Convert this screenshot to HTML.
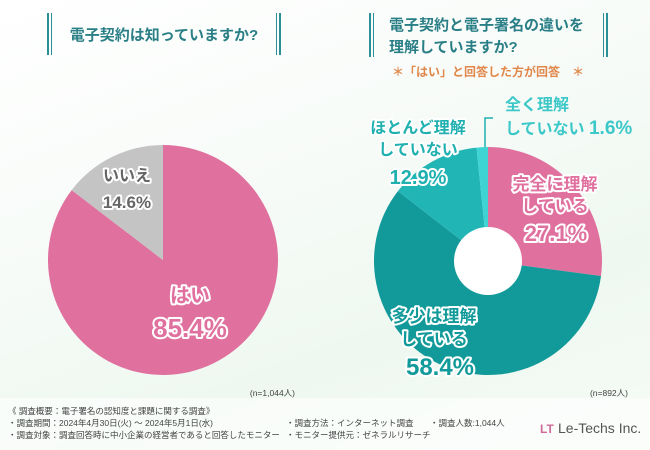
<!DOCTYPE html>
<html><head><meta charset="utf-8"><style>
body{margin:0;width:650px;height:450px;overflow:hidden;font-family:"Liberation Sans","Noto Sans CJK JP",sans-serif;background:linear-gradient(160deg,#ffffff 0%,#f7fbf8 40%,#eef8f0 70%,#f6fbf6 100%);}
svg{position:absolute;left:0;top:0}
text{font-family:"Liberation Sans","Noto Sans CJK JP",sans-serif;font-weight:bold}
.o{paint-order:stroke;stroke:#fff;stroke-width:4px;stroke-linejoin:round}
.f{font-weight:normal;font-size:8.5px;fill:#444}
</style></head><body>
<svg width="650" height="450">
<rect x="0" y="398" width="650" height="52" fill="#fff" opacity="0.6"/>
<g>
<rect x="47" y="13" width="2" height="42" fill="#2a8f96"/><rect x="51" y="13" width="1" height="42" fill="#2a8f96"/>
<rect x="276" y="13" width="1" height="42" fill="#2a8f96"/><rect x="279" y="13" width="2" height="42" fill="#2a8f96"/>
<text x="164" y="40" text-anchor="middle" font-size="15" fill="#2a7f86">電子契約は知っていますか?</text>
</g>
<g>
<rect x="369" y="13" width="2" height="44" fill="#2a8f96"/><rect x="373" y="13" width="1" height="44" fill="#2a8f96"/>
<rect x="603" y="13" width="1" height="44" fill="#2a8f96"/><rect x="606" y="13" width="2" height="44" fill="#2a8f96"/>
<text x="389" y="30" font-size="15" fill="#2a7f86">電子契約と電子署名の違いを</text>
<text x="389" y="52" font-size="15" fill="#2a7f86">理解していますか?</text>
<text x="488" y="76" text-anchor="middle" font-size="12" fill="#e0874a">＊「はい」と回答した方が回答　＊</text>
</g>
<g id="left"></g>
<g id="right"></g>
<g>
<text x="127" y="181" text-anchor="middle" font-size="16" class="o" fill="#666">いいえ</text>
<text x="127" y="208" text-anchor="middle" font-size="17" class="o" fill="#666">14.6%</text>
<text x="190" y="302" text-anchor="middle" font-size="20" class="o" fill="#e0719f">はい</text>
<text x="190" y="337" text-anchor="middle" font-size="26" class="o" fill="#e0719f">85.4%</text>
</g>
<g>
<text x="555" y="190" text-anchor="middle" font-size="17" class="o" fill="#e0719f">完全に理解</text>
<text x="555" y="212" text-anchor="middle" font-size="17" class="o" fill="#e0719f">している</text>
<text x="556" y="241" text-anchor="middle" font-size="22" class="o" fill="#e0719f">27.1%</text>
<text x="434" y="322" text-anchor="middle" font-size="17" class="o" fill="#129a9a">多少は理解</text>
<text x="434" y="345" text-anchor="middle" font-size="17" class="o" fill="#129a9a">している</text>
<text x="440" y="375" text-anchor="middle" font-size="24" class="o" fill="#129a9a">58.4%</text>
<text x="418" y="133" text-anchor="middle" font-size="16" class="o" fill="#20b0b0">ほとんど理解</text>
<text x="418" y="155" text-anchor="middle" font-size="16" class="o" fill="#20b0b0">していない</text>
<text x="418" y="184" text-anchor="middle" font-size="20" class="o" fill="#20b0b0">12.9%</text>
<path d="M485 147 V118 H493" stroke="#20b0b0" stroke-width="1.5" fill="none"/>
<text x="505" y="110" font-size="16" fill="#3cc8c8">全く理解</text>
<text x="505" y="134" font-size="16" fill="#3cc8c8">していない <tspan font-size="19">1.6%</tspan></text>
</g>
<text x="295" y="396" text-anchor="end" class="f">(n=1,044人)</text>
<text x="628" y="396" text-anchor="end" class="f">(n=892人)</text>
<g>
<text x="8" y="414" class="f">《 調査概要：電子署名の認知度と課題に関する調査》</text>
<text x="8" y="426" class="f">・調査期間：2024年4月30日(火) ～ 2024年5月1日(水)</text>
<text x="8" y="438" class="f">・調査対象：調査回答時に中小企業の経営者であると回答したモニター</text>
<text x="286" y="426" class="f">・調査方法：インターネット調査</text>
<text x="286" y="438" class="f">・モニター提供元：ゼネラルリサーチ</text>
<text x="430" y="426" class="f">・調査人数:1,044人</text>
</g>
<g>
<text x="540" y="433" font-size="12" fill="#d06a9a">LT</text>
<text x="558" y="433" font-size="14" fill="#555" style="font-weight:normal">Le-Techs Inc.</text>
</g>
</svg>
<script>
const leftLabels=['はい','いいえ'];
const leftValues=[85.4,14.6];
const rightLabels=['完全に理解している','多少は理解している','ほとんど理解していない','全く理解していない'];
const rightValues=[27.1,58.4,12.9,1.6];
const leftColors=['#e0719f','#c4c4c4'];
const rightColors=['#e0719f','#129a9a','#22b5b5','#3fd4d4'];
const NS='http://www.w3.org/2000/svg';
function pt(cx,cy,r,a){return [cx+r*Math.sin(a),cy-r*Math.cos(a)];}
function draw(g,vals,cols,cx,cy,r,ri,names){
  const tot=vals.reduce((a,b)=>a+b,0);let a0=0;
  vals.forEach((v,i)=>{
    const a1=a0+v/tot*2*Math.PI;const [x0,y0]=pt(cx,cy,r,a0),[x1,y1]=pt(cx,cy,r,a1);
    const lg=(a1-a0)>Math.PI?1:0;
    const p=document.createElementNS(NS,'path');
    p.setAttribute('d',`M${cx} ${cy} L${x0} ${y0} A${r} ${r} 0 ${lg} 1 ${x1} ${y1} Z`);
    p.setAttribute('fill',cols[i]);
    
    
    g.appendChild(p);a0=a1;
  });
  if(ri){const c=document.createElementNS(NS,'circle');c.setAttribute('cx',cx);c.setAttribute('cy',cy);c.setAttribute('r',ri);c.setAttribute('fill','#fff');
    
    
    g.appendChild(c);}
}
draw(document.getElementById('left'),leftValues,leftColors,163,260,115,0,leftLabels);
draw(document.getElementById('right'),rightValues,rightColors,488,261,114,34,rightLabels);
</script>
</body></html>
